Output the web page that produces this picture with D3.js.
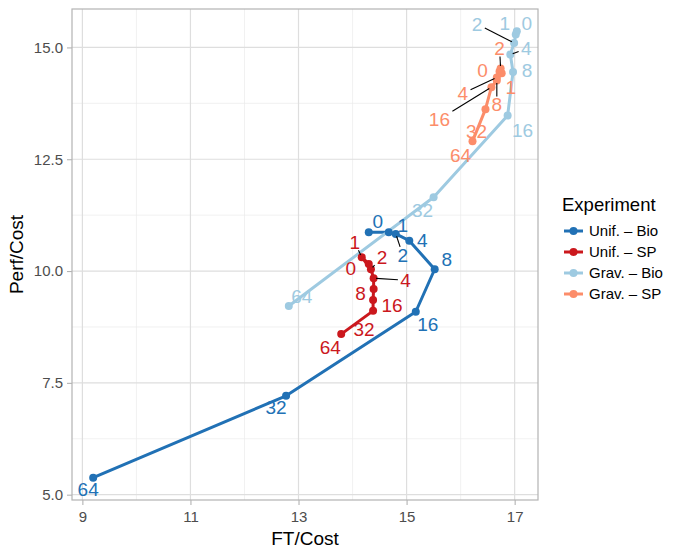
<!DOCTYPE html>
<html><head><meta charset="utf-8">
<script src="https://cdn.jsdelivr.net/npm/d3@7"></script>
<style>body{margin:0;background:#fff}svg{display:block;font-family:"Liberation Sans",Arial,sans-serif}</style>
</head><body><svg id="c" width="683" height="554"></svg>
<script>
const seriesNames = ["Unif. – Bio", "Unif. – SP", "Grav. – Bio", "Grav. – SP"];
const seriesColors = ["#2171B5", "#CB181D", "#9ECAE1", "#FC8D6A"];
const pointLabels = ["0", "1", "2", "4", "8", "16", "32", "64"];
const unifBioX = [14.30, 14.67, 14.80, 15.05, 15.52, 15.17, 12.77, 9.20];
const unifBioY = [10.87, 10.87, 10.83, 10.68, 10.04, 9.09, 7.21, 5.38];
const unifSpX = [14.30, 14.17, 14.34, 14.39, 14.39, 14.38, 14.38, 13.79];
const unifSpY = [10.16, 10.31, 10.04, 9.84, 9.60, 9.35, 9.11, 8.59];
const gravBioX = [17.04, 17.02, 16.99, 16.92, 16.97, 16.87, 15.50, 12.82];
const gravBioY = [15.36, 15.29, 15.10, 14.84, 14.45, 13.48, 11.65, 9.22];
const gravSpX = [16.72, 16.76, 16.74, 16.67, 16.67, 16.57, 16.46, 16.22];
const gravSpY = [14.46, 14.42, 14.53, 14.33, 14.26, 14.11, 13.62, 12.90];
const xTicks = [9, 11, 13, 15, 17];
const yTicks = [5.0, 7.5, 10.0, 12.5, 15.0];

// repelled label placement (pixel offsets from the point) and whether a leader is drawn
const labelOffsets = [
  [[9,-11,0],[14,-7,0],[7,21,1],[13,0,0],[12,-10,0],[12,13,0],[-10,12,0],[-5,12,0]],
  [[-18,4,0],[-7,-15,1],[11,-12,1],[32,2,1],[-13,4,0],[19,5,0],[-9,18,0],[-11,13,0]],
  [[10,-8,0],[-11,-11,0],[-37,-19,1],[16,-6,1],[14,-2,0],[15,15,0],[-11,13,0],[13,-10,0]],
  [[-17,-1,0],[9,14,0],[-1,-20,1],[-34,16,1],[0,24,1],[-52,32,1],[-9,22,0],[-12,14,0]]
];

const xsAll = [unifBioX, unifSpX, gravBioX, gravSpX];
const ysAll = [unifBioY, unifSpY, gravBioY, gravSpY];
const series = seriesNames.map((n, i) => ({
  name: n, color: seriesColors[i],
  pts: pointLabels.map((l, j) => ({label: l, x: xsAll[i][j], y: ysAll[i][j], off: labelOffsets[i][j]}))
}));

const svg = d3.select("#c");
const L = 72, R = 538, T = 9, B = 500;
const allX = xsAll.flat(), allY = ysAll.flat();
const xe = d3.extent(allX), ye = d3.extent(allY);
const xp = (xe[1]-xe[0])*0.05, yp = (ye[1]-ye[0])*0.05;
const x = d3.scaleLinear().domain([xe[0]-xp, xe[1]+xp]).range([L, R]);
const y = d3.scaleLinear().domain([ye[0]-yp, ye[1]+yp]).range([B, T]);

// grid
const g = svg.append("g");
const minorX = d3.range(10, 17, 2), minorY = [6.25, 8.75, 11.25, 13.75];
g.selectAll(".mx").data(minorX).join("line").attr("x1", d=>x(d)).attr("x2", d=>x(d)).attr("y1", T).attr("y2", B).attr("stroke", "#EBEBEB").attr("stroke-width", 0.7);
g.selectAll(".my").data(minorY).join("line").attr("y1", d=>y(d)).attr("y2", d=>y(d)).attr("x1", L).attr("x2", R).attr("stroke", "#EBEBEB").attr("stroke-width", 0.7);
g.selectAll(".gx").data(xTicks).join("line").attr("x1", d=>x(d)).attr("x2", d=>x(d)).attr("y1", T).attr("y2", B).attr("stroke", "#DEDEDE").attr("stroke-width", 1.2);
g.selectAll(".gy").data(yTicks).join("line").attr("y1", d=>y(d)).attr("y2", d=>y(d)).attr("x1", L).attr("x2", R).attr("stroke", "#DEDEDE").attr("stroke-width", 1.2);

// axes
const xAxis = d3.axisBottom(x).tickValues(xTicks).tickSize(5).tickPadding(4).tickFormat(d3.format("d"));
const yAxis = d3.axisLeft(y).tickValues(yTicks).tickSize(5).tickPadding(4).tickFormat(d3.format(".1f"));
const ax = svg.append("g").attr("transform", `translate(0,${B})`).call(xAxis);
const ay = svg.append("g").attr("transform", `translate(${L},0)`).call(yAxis);
[ax, ay].forEach(a => {
  a.select(".domain").remove();
  a.selectAll(".tick line").attr("stroke", "#B3B3B3").attr("stroke-width", 1.1);
  a.selectAll(".tick text").attr("fill", "#4D4D4D").attr("font-size", 15).attr("font-family", "Liberation Sans, Arial, sans-serif");
});
ax.selectAll(".tick text").attr("dy", "0.85em");

svg.append("rect").attr("x", L).attr("y", T).attr("width", R-L).attr("height", B-T)
  .attr("fill", "none").attr("stroke", "#B3B3B3").attr("stroke-width", 1.2);

svg.append("text").attr("x", (L+R)/2).attr("y", 545).attr("text-anchor", "middle").attr("font-size", 19).text("FT/Cost");
svg.append("text").attr("transform", `translate(23,${(T+B)/2}) rotate(-90)`).attr("text-anchor", "middle").attr("font-size", 19).text("Perf/Cost");

// lines and points
const line = d3.line().x(d=>x(d.x)).y(d=>y(d.y));
const layer = svg.append("g");
series.forEach(s => {
  layer.append("path").datum(s.pts).attr("d", line).attr("fill", "none").attr("stroke", s.color).attr("stroke-width", 3).attr("stroke-linejoin", "round");
});
series.forEach(s => {
  layer.selectAll(null).data(s.pts).join("circle").attr("cx", d=>x(d.x)).attr("cy", d=>y(d.y)).attr("r", 4).attr("fill", s.color);
});

// labels
const fs = 19;
const lab = svg.append("g");
series.forEach(s => {
  s.pts.forEach(p => {
    const px = x(p.x), py = y(p.y);
    const lx = px + p.off[0], ly = py + p.off[1];
    if (p.off[2]) {
      const hw = p.label.length * fs * 0.3 + 2, hh = fs * 0.42;
      const dx = px - lx, dy = py - ly;
      const t = Math.min(Math.abs(dx) > 0 ? hw/Math.abs(dx) : Infinity, Math.abs(dy) > 0 ? hh/Math.abs(dy) : Infinity);
      const sx = lx + dx*Math.min(t,1), sy = ly + dy*Math.min(t,1);
      const len = Math.hypot(dx, dy);
      const ex = px - dx/len*2.5, ey = py - dy/len*2.5;
      lab.append("line").attr("x1", sx).attr("y1", sy).attr("x2", ex).attr("y2", ey).attr("stroke", "#000").attr("stroke-width", 1.1);
    }
    lab.append("text").attr("x", lx).attr("y", ly).attr("dy", "0.35em").attr("text-anchor", "middle")
      .attr("font-size", fs).attr("fill", s.color).text(p.label);
  });
});

// legend
const lg = svg.append("g").attr("transform", "translate(562,0)");
lg.append("text").attr("x", 0).attr("y", 211).attr("font-size", 18.5).text("Experiment");
series.forEach((s, i) => {
  const yy = 231 + i*21;
  lg.append("line").attr("x1", 2).attr("x2", 21).attr("y1", yy).attr("y2", yy).attr("stroke", s.color).attr("stroke-width", 3);
  lg.append("circle").attr("cx", 11.5).attr("cy", yy).attr("r", 4).attr("fill", s.color);
  lg.append("text").attr("x", 27).attr("y", yy).attr("dy", "0.35em").attr("font-size", 15).text(s.name);
});
</script></body></html>
